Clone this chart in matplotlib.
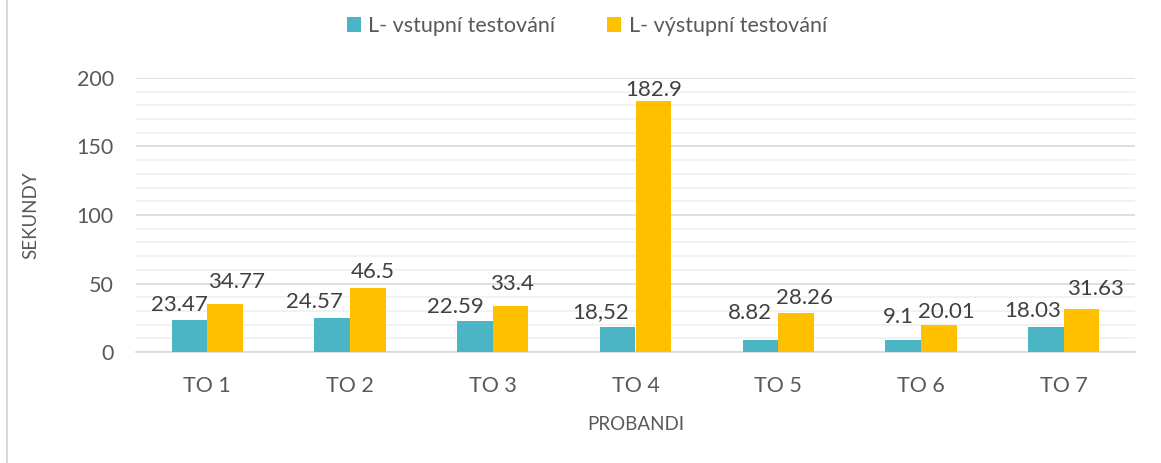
import numpy as np
import matplotlib.pyplot as plt
from matplotlib.lines import Line2D
from matplotlib.ticker import MultipleLocator

plt.rcParams['font.family'] = ['Lato', 'DejaVu Sans']

kategorie = ["TO 1", "TO 2", "TO 3", "TO 4", "TO 5", "TO 6", "TO 7"]
vstup = [23.47, 24.57, 22.59, 18.52, 8.82, 9.1, 18.03]
vystup = [34.77, 46.5, 33.4, 182.9, 28.26, 20.01, 31.63]
vstup_txt = ["23.47", "24.57", "22.59", "18,52", "8.82", "9.1", "18.03"]
vystup_txt = ["34.77", "46.5", "33.4", "182.9", "28.26", "20.01", "31.63"]

# posun popisku v pixelech (dx, mezera nad sloupcem) - v originale rucne posunute
posun_vstup = [(-10, 9), (-18, 10), (-20, 8), (-17, 9), (-10, 21), (-5, 17), (-13, 10)]
posun_vystup = [(11, 16), (5, 10), (1, 16), (0, 5), (8, 9), (8, 7), (14, 14)]

seda = "#595959"
fig = plt.figure(figsize=(11.61, 4.63), dpi=100)
ax = fig.add_axes([136 / 1161, 1 - 352 / 463, 999 / 1161, 274 / 463])

x = np.arange(len(kategorie))
w = 0.25
b1 = ax.bar(x - w / 2, vstup, w, color="#4BB5C6", label="L- vstupní testování", zorder=3)
b2 = ax.bar(x + w / 2, vystup, w, color="#FFC000", label="L- výstupní testování", zorder=3)

for bars, txt, pos in ((b1, vstup_txt, posun_vstup), (b2, vystup_txt, posun_vystup)):
    for r, t, (dx, dy) in zip(bars, txt, pos):
        ax.annotate(t, (r.get_x() + r.get_width() / 2, r.get_height()),
                    xytext=(dx, dy), textcoords="offset pixels",
                    ha="center", va="baseline", fontsize=16, color="#404040")

ax.set_xlim(-0.5, 6.5)
ax.set_ylim(0, 200)
ax.yaxis.set_major_locator(MultipleLocator(50))
ax.yaxis.set_minor_locator(MultipleLocator(10))
ax.grid(axis="y", which="major", color="#d9d9d9", lw=1.2, zorder=0)
ax.grid(axis="y", which="minor", color="#f0f0f0", lw=1.2, zorder=0)
for s in ["top", "right", "left"]:
    ax.spines[s].set_visible(False)
ax.spines["bottom"].set_color("#d9d9d9")
ax.spines["bottom"].set_linewidth(1.2)
ax.set_xticks(x)
ax.set_xticklabels(kategorie)
ax.tick_params(axis="x", length=0, pad=17, labelsize=15.5, colors=seda)
ax.tick_params(axis="y", which="both", length=0, pad=16, labelsize=15.5, colors=seda)

ax.set_xlabel("PROBANDI", fontsize=13.5, color=seda, labelpad=15)
ax.set_ylabel("SEKUNDY", fontsize=13.5, color=seda, labelpad=27)

ax.legend(loc="center", bbox_to_anchor=((587 - 136) / 999, (352 - 26) / 274),
          ncol=2, frameon=False, fontsize=15.5, labelcolor=seda,
          handlelength=0.65, handleheight=0.65, columnspacing=2.4, handletextpad=0.35)

fig.add_artist(Line2D([7 / 1161, 7 / 1161], [0, 1], color="#d9d9d9", lw=1.5))

fig.savefig("out.png", dpi=100)
